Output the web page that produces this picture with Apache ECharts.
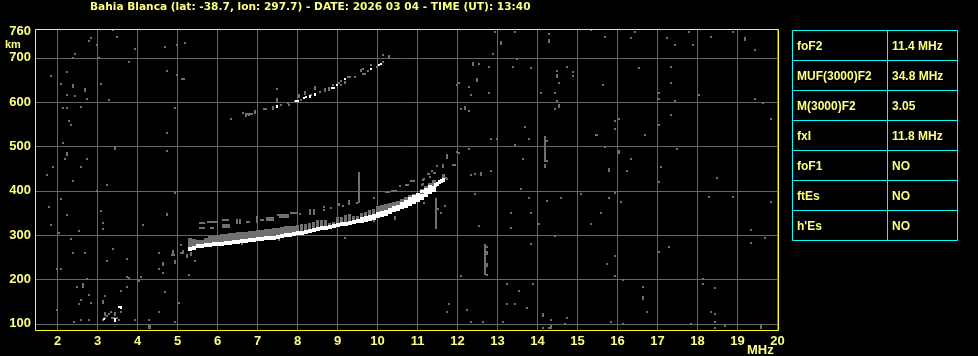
<!DOCTYPE html>
<html><head><meta charset="utf-8">
<script src="https://cdn.jsdelivr.net/npm/echarts@6/dist/echarts.min.js"></script>
<style>html,body{margin:0;padding:0;background:#000}#c{width:978px;height:356px}</style>
</head><body><div id="c"></div>
<script>
const titleText = 'Bahia Blanca (lat: -38.7, lon: 297.7) - DATE: 2026 03 04 - TIME (UT): 13:40';
const xTicks = [2,3,4,5,6,7,8,9,10,11,12,13,14,15,16,17,18,19,20];
const yTicks = [100,200,300,400,500,600,700];
const yLabels = [100,200,300,400,500,600,700,760];
const tableNames = ['foF2','MUF(3000)F2','M(3000)F2','fxI','foF1','ftEs',"h'Es"];
const tableValues = ['11.4 MHz','34.8 MHz','3.05','11.8 MHz','NO','NO','NO'];

// main trace: frequency, centre height of the white band
const traceFreq = [5.3,5.4,5.5,5.6,5.7,5.8,5.9,6.0,6.1,6.2,6.3,6.4,6.5,6.6,6.7,6.8,6.9,7.0,7.1,7.2,7.3,7.4,7.5,7.6,7.7,7.8,7.9,8.0,8.1,8.2,8.3,8.4,8.5,8.6,8.7,8.8,8.9,9.0,9.1,9.2,9.3,9.4,9.5,9.6,9.7,9.8,9.9,10.0,10.1,10.2,10.3,10.4,10.5,10.6,10.7,10.8,10.9,11.0,11.1,11.2,11.3,11.4];
const traceHeight = [269,272,274.5,276,277,278,279,280,281,282,283,284,285,286,287,289,290,291,292,293,293.5,294,295,299,300,301,302,304,304.5,307,309,311,313,315,317,319,320,322,324,325,327,329,331,335,337,339,342,345,348,351,354,358,362,365,369,373,378,382,387,393,399,405];
const grayTop = [293,292,290,290,293,297,299,300,302,302,304,304,308,308,306,310,310,312,311,313,314,316,317,319,320,320,320,322,326,326,327,329,335,335,335,328,330,340,340,345,347,343,344,350,353,357,358,365,368,371,373,375,378,381,385,390,392,396,403,410,418,425];
// second white streak above the main one near the cusp, and the white tip
const upperWhite = [[10.6,372],[10.7,377],[10.8,382],[10.9,387],[11.0,392],[11.1,398],[11.2,404],[11.3,410]];
const tipWhite = [[11.45,412],[11.5,416],[11.55,420],[11.6,423],[11.65,425]];

// weak echo strip above the main trace: f start, f end, height
const echoStrips = [[5.53,5.69,328],[5.53,5.69,316.6],[5.73,5.98,330],[5.8,5.9,317],[6.11,6.28,334],[6.11,6.32,322],[6.11,6.32,319],[6.72,6.82,329],[7.05,7.17,334],[7.22,7.4,339],[7.22,7.4,334],[7.48,7.78,346],[7.53,7.78,341],[7.82,7.98,350],[10.19,10.32,397],[10.34,10.48,399],[10.69,10.78,414],[10.82,10.94,421],[5.09,5.19,653],[4.84,4.94,255],[3.34,3.44,112],[2.39,2.44,103],[15.44,15.5,526],[7.14,7.24,584],[7.74,7.79,598],[8.54,8.59,622],[9.24,9.34,657],[9.74,9.79,671],[6.69,6.89,574]];

// long vertical features: f, low, high
const echoBars = [[9.54,373,442],[11.47,314,384],[12.69,209,281],[14.19,464,524],[6.48,324,337],[6.57,324,337],[6.98,328,344],[8.3,345,359],[8.4,345,359],[9.03,365,373],[9.28,367,379],[11.65,425,437],[11.63,422,437],[7.49,597,609],[8.04,610,618],[8.19,617,625],[8.44,628,636],[9.59,667,675]];

const whitePoints = [[3.54,139],[3.59,139],[3.59,135],[3.44,110],[3.44,107],[3.16,110],[7.49,592],[7.49,589],[8.02,603],[7.97,603],[8.17,609],[8.22,611],[8.32,614],[8.32,611],[8.44,619],[8.44,616],[8.92,633],[8.87,633],[8.99,638],[9.19,653],[9.84,675],[10.09,686],[10.04,684]];

const dots = [
[12.94,758],[13.44,758],[14.29,754],[15.34,762],[15.69,748],[16.44,758],[16.34,744],[17.24,744],[17.79,758],[17.44,730],[17.89,730],[18.34,748],[18.89,758],[19.44,717],[12.89,708],[13.49,698],[12.54,685],[12.79,680],[13.39,680],[13.84,676],[14.74,680],[14.49,671],[14.89,667],[14.89,658],[14.54,644],[16.54,676],[17.34,680],[17.34,644],[15.64,639],[12.04,644],[11.99,639],[12.29,635],[12.34,617],[12.79,621],[14.09,621],[14.44,621],[17.04,621],[17.04,608],[17.44,603],[18.04,617],[19.44,608],[19.64,599],[14.49,603],[14.44,585],[12.09,585],[12.29,580],[17.34,571],[19.84,562],[16.04,562],[15.94,558],[15.94,539],[17.04,548],[13.69,544],[16.69,526],[12.84,517],[12.99,517],[13.79,517],[13.44,503],[15.69,498],[12.29,494],[17.49,494],[12.04,485],[13.64,471],[16.34,471],[18.49,430],[11.94,458],[17.09,453],[16.24,444],[12.84,444],[12.44,439],[12.34,435],[11.69,430],[11.74,426],[14.24,513],[14.24,468],
[17.04,419],[13.59,405],[12.44,392],[13.79,383],[14.24,378],[14.59,383],[15.09,392],[15.94,396],[15.79,383],[16.09,374],[18.29,387],[18.89,387],[19.84,374],[11.69,365],[11.59,351],[13.34,351],[13.84,351],[15.59,351],[14.04,324],[15.34,324],[12.54,320],[13.34,315],[19.34,311],[14.44,297],[19.69,293],[19.34,283],[13.84,279],[17.29,274],[17.04,261],[15.94,252],[15.74,234],[12.09,207],[15.94,207],[18.14,202],[16.14,198],[13.24,189],[13.89,189],[18.14,189],[16.64,184],[18.44,180],[13.54,175],[11.79,144],[13.24,144],[13.44,144],[13.74,135],[12.24,130],[11.74,126],[16.74,126],[18.34,126],[18.44,121],[14.74,112],[14.34,108],[12.34,103],[12.64,103],[13.14,103],[15.84,103],[18.44,103],[14.69,98.5],[16.14,98.5],[17.84,98.5],[18.69,94],[14.29,89.5],[14.14,89.5],[18.44,89.5],[12.74,274],[12.74,211],
[2.29,557],[2.34,548],[2.14,507.5],[2.19,471],[2.74,471],[1.89,453],[2.59,453],[1.74,435],[2.39,422],[3.24,413],[4.74,530],[4.74,489],[6.34,562],[2.99,399],[4.94,395],[2.09,381],[1.79,363],[3.09,354],[2.24,345],[4.74,345],[3.14,327],[1.84,323],[4.14,323],[3.14,314],[2.54,309],[2.04,304.5],[2.34,291],[5.09,277],[3.39,268],[2.39,259],[2.69,259],[4.54,259],[3.74,246],[3.24,241],[1.99,223],[2.09,223],[4.54,223],[4.64,214],[5.29,209],[5.44,241],[4.09,205],[3.74,206],[3.79,204],[2.74,201],[4.04,196],[2.64,190],[5.14,264],[5.09,260],[5.14,260],
[3.38,762],[3.49,748],[2.79,739],[2.84,744],[2.99,730],[3.94,721],[2.44,707.5],[2.39,698.5],[3.04,698.5],[3.79,689.5],[4.69,725.5],[4.99,730],[5.19,734.5],[4.74,671],[4.99,662],[1.84,658],[2.24,667],[2.09,640],[3.09,640],[2.24,617],[2.44,613],[2.74,608],[3.29,604],[2.14,586],[2.24,586],[2.59,590],[4.94,586],
[2.49,184],[3.59,175],[3.74,184],[4.02,198],[2.79,166],[3.19,162],[4.69,171],[2.59,153],[2.84,148],[2.54,144],[5.04,148],[1.99,130],[3.59,126],[4.54,126],[3.29,121],[3.34,126],[3.24,116.5],[3.49,114],[3.19,112],[3.54,107.5],[3.14,107.5],[3.94,107.5],[4.29,107.5],[4.94,103],[2.59,107.5],[2.79,107.5],
[6.34,562],[6.64,576],[6.79,571],[6.84,574],[7.59,594],[7.49,630],[7.79,594],[7.94,603],[8.09,605],[8.34,616],[8.89,639],[9.09,648],[9.04,644],[9.09,639],[9.64,664],[9.69,664],[9.64,675],[9.84,684],[9.99,680],[10.14,691],[10.14,707],[9.44,657],[9.19,646],[9.19,643],
[9.9,383.5],[8.07,348],[8.65,363],[8.65,356],[8.83,362],[9.13,365],[9.48,373],[10.57,410.6],[11.15,425.6],[11.28,437],[11.36,444],[11.44,440.6],[11.1,414],[4.94,396],[4.73,348],[11.15,373],[9.19,292.5],[9.9,331],[7.53,290],[6.6,281],[11.51,360],[11.7,429],[11.25,437],[11.4,440],[11.3,432],[11.48,455],[11.63,459],[11.88,459],[11.98,487],[11.13,424],[11.13,416]
];
const tallDots = [[13.09,733],[14.29,737],[19.19,742],[12.39,687],[14.49,660],[12.49,651],[14.54,592],[12.19,587],[16.03,487],[11.74,476],[11.64,455],[14.19,455],[15.79,446],[12.59,437],[11.64,430],[16.64,159],[14.14,119],[14.34,92],[19.59,92],[12.74,259],[12.74,232],[2.24,483],[3.44,496],[4.64,234],[4.94,239],[4.89,262],[5.24,252],[5.34,257],[2.39,637.5],[2.69,628.5],[2.64,186],[3.14,150],[3.19,123],[3.44,121],[4.29,92],[4.31,92],[10.44,339],[6.94,578],[7.39,587],[8.69,628],[8.79,630],[10.29,702],[11.73,478],[6.71,571]];

function cell(api, wPx, hPx, color) {
  const p = api.coord([api.value(0), api.value(1)]);
  return {type:'rect', silent:true,
    shape:{x:Math.round(p[0]-wPx/2), y:Math.round(p[1]-hPx/2), width:wPx, height:hPx},
    style:{fill:color}};
}
function pointSeries(data, wPx, hPx, color, z) {
  return {type:'custom', coordinateSystem:'cartesian2d', silent:true, z:z, clip:true, animation:false,
    data:data, encode:{x:0,y:1},
    renderItem:(params, api)=>cell(api, wPx, hPx, color)};
}
function columnSeries(data, wPx, color, z) {   // [f, low, high]
  return {type:'custom', coordinateSystem:'cartesian2d', silent:true, z:z, animation:false,
    data:data, encode:{x:0,y:[1,2]},
    renderItem:(params, api)=>{
      const a = api.coord([api.value(0), api.value(1)]);
      const b = api.coord([api.value(0), api.value(2)]);
      const top = Math.round(b[1]);
      return {type:'rect', silent:true,
        shape:{x:Math.round(a[0]-wPx/2), y:top, width:wPx, height:Math.max(2,Math.round(a[1])-top)},
        style:{fill:color}};
    }};
}
function stripSeries(data, color, z) {         // [f0, f1, h]
  return {type:'custom', coordinateSystem:'cartesian2d', silent:true, z:z, animation:false,
    data:data, encode:{x:[0,1],y:2},
    renderItem:(params, api)=>{
      const a = api.coord([api.value(0), api.value(2)]);
      const b = api.coord([api.value(1), api.value(2)]);
      const x = Math.round(a[0]);
      return {type:'rect', silent:true,
        shape:{x:x, y:Math.round(a[1]-1), width:Math.max(2,Math.round(b[0])-x), height:2},
        style:{fill:color}};
    }};
}

const GRAY = '#707070', WHITE = '#ffffff', LABEL = '#ffff80', CYAN = '#00ffff', FRAME = '#ffff00';
const traceRows = traceFreq.map((f,i)=>[f, traceHeight[i], grayTop[i]]);
const whiteThin = traceRows.filter(r=>r[0]<9.6);
const whiteThick = traceRows.filter(r=>r[0]>=9.6);
const grayWide = traceRows.filter(r=>r[0]<8 || r[0]>=10);
const grayNarrow = traceRows.filter(r=>r[0]>=8 && r[0]<10);

const tableGraphics = [];
const tx0 = 792, ty0 = 30, rowH = 30, col1 = 887, tx1 = 957;
tableGraphics.push({type:'rect', shape:{x:tx0+.5,y:ty0+.5,width:tx1-tx0,height:rowH*tableNames.length}, style:{fill:'none',stroke:CYAN,lineWidth:1}, silent:true});
tableGraphics.push({type:'line', shape:{x1:col1+.5,y1:ty0,x2:col1+.5,y2:ty0+rowH*tableNames.length}, style:{stroke:CYAN,lineWidth:1}, silent:true});
tableNames.forEach((n,i)=>{
  if (i>0) tableGraphics.push({type:'line', shape:{x1:tx0,y1:ty0+rowH*i+.5,x2:tx1,y2:ty0+rowH*i+.5}, style:{stroke:CYAN,lineWidth:1}, silent:true});
  const y = ty0 + rowH*i + 17;
  const font = 'bold 12px "Liberation Sans"';
  tableGraphics.push({type:'text', x:797, y:y, style:{text:n, fill:LABEL, font:font, textVerticalAlign:'middle'}, silent:true});
  tableGraphics.push({type:'text', x:892, y:y, style:{text:tableValues[i], fill:LABEL, font:font, textVerticalAlign:'middle'}, silent:true});
});

const chart = echarts.init(document.getElementById('c'), null, {renderer:'canvas'});
chart.setOption({
  backgroundColor:'#000',
  animation:false,
  textStyle:{fontFamily:'Liberation Sans'},
  title:{text:titleText, left:90, top:2, padding:0, textStyle:{color:LABEL, fontSize:10.6, fontWeight:'bold', fontFamily:'DejaVu Sans'}},
  grid:{left:35, right:200, top:29, bottom:26, show:false},
  xAxis:{type:'value', min:1.4375, max:20.0125,
    axisLine:{show:false}, axisTick:{show:false, customValues:xTicks},
    splitLine:{show:true, customValues:xTicks, lineStyle:{color:'#666666', width:1}},
    axisLabel:{customValues:xTicks, color:LABEL, fontSize:13, fontWeight:'bold', margin:5, hideOverlap:false, showMinLabel:true, showMaxLabel:true}},
  yAxis:{type:'value', min:86, max:765,
    axisLine:{show:false}, axisTick:{show:false, customValues:yTicks},
    splitLine:{show:true, customValues:yTicks, lineStyle:{color:'#666666', width:1}},
    axisLabel:{customValues:yLabels, color:LABEL, fontSize:13, fontWeight:'bold', margin:4, padding:[3,0,0,0], hideOverlap:false}},
  graphic:[
    {type:'rect', z:100, shape:{x:35.5,y:29.5,width:743,height:301}, style:{fill:'none',stroke:FRAME,lineWidth:1}, silent:true},
    {type:'text', x:5, y:45, style:{text:'km', fill:LABEL, font:'bold 11px "Liberation Sans"', textVerticalAlign:'middle'}, silent:true},
    {type:'text', x:747, y:350, style:{text:'MHz', fill:LABEL, font:'bold 13px "Liberation Sans"', textVerticalAlign:'middle'}, silent:true}
  ].concat(tableGraphics),
  series:[
    pointSeries(dots,2,2,GRAY,3),
    pointSeries(tallDots,2,4,GRAY,3),
    stripSeries(echoStrips,GRAY,3),
    columnSeries(echoBars,2,GRAY,3),
    columnSeries(grayWide,4,GRAY,4),
    columnSeries(grayNarrow,3,GRAY,4),
    pointSeries(whiteThin,4,4,WHITE,5),
    pointSeries(whiteThick,4,6,WHITE,5),
    pointSeries(upperWhite,4,3,WHITE,5),
    pointSeries(tipWhite,3,4,WHITE,5),
    pointSeries(whitePoints,2,2,WHITE,5)
  ]
});
</script></body></html>
